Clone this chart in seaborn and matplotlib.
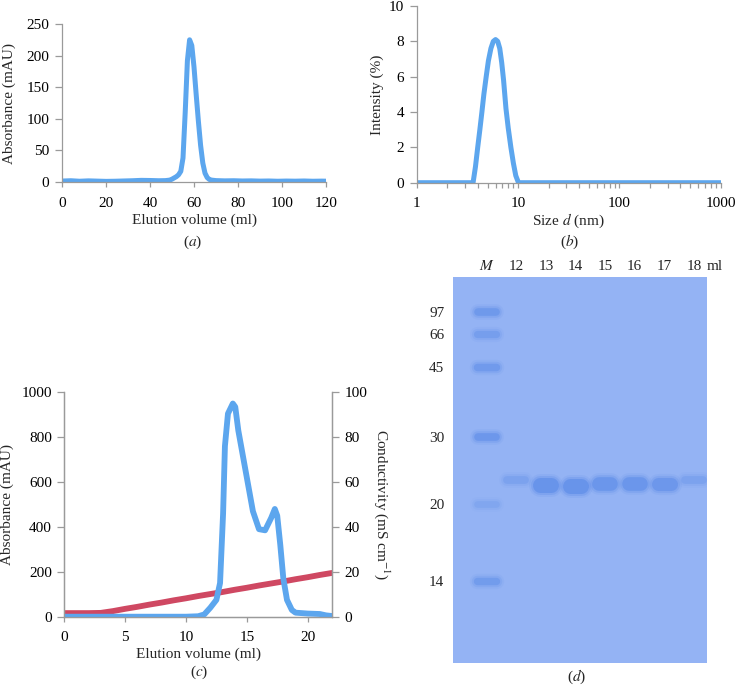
import matplotlib
matplotlib.use("Agg")
import matplotlib.pyplot as plt
import seaborn as sns
from matplotlib.ticker import FixedLocator, FixedFormatter, LogLocator, NullFormatter

# ---- (a) gel filtration ----
sec_volume = [0, 4, 8, 12, 16, 20, 24, 28, 32, 36, 40, 44,
              47, 49, 50, 51, 52, 53, 54, 55, 56, 57, 58, 59, 60, 61, 62, 63, 64, 65, 66, 67, 68,
              70, 74, 78, 82, 86, 90, 94, 98, 102, 106, 110, 114, 118, 120]
sec_abs = [1.5, 2.0, 1.2, 1.8, 1.4, 1.0, 1.2, 1.6, 2.0, 2.6, 2.4, 2.0,
           2.2, 3.0, 4.5, 6.5, 8.5, 11.5, 17, 38, 110, 192, 225, 216, 182, 138, 96, 58, 30, 14, 7, 4, 3,
           2.2, 1.8, 2.0, 1.6, 1.8, 1.4, 1.6, 1.2, 1.5, 1.3, 1.6, 1.2, 1.4, 1.3]

# ---- (b) DLS ----
dls_size = [1, 3.6, 3.8, 4.0, 4.2, 4.4, 4.6, 4.85, 5.1, 5.4, 5.7, 6.0, 6.3, 6.6, 6.9,
            7.2, 7.6, 8.0, 8.5, 9.0, 9.5, 10.1, 1000]
dls_intensity = [0, 0, 0.9, 2.0, 3.0, 4.0, 5.0, 6.0, 6.9, 7.6, 8.0, 8.1, 8.0, 7.6, 6.8,
                 5.8, 4.2, 3.1, 2.0, 1.1, 0.4, 0, 0]

# ---- (c) ion exchange ----
iex_volume = [0, 2, 4, 6, 8, 10,
              11.0, 11.5, 12.0, 12.5, 12.8, 13.05, 13.2, 13.45, 13.85, 14.05,
              14.3, 14.5, 15.0, 15.5, 16.0, 16.5, 17.0, 17.3, 17.5, 17.75,
              18.0, 18.3, 18.7, 19.0, 20.0, 21.0, 21.5, 22.0]
iex_abs = [0, 0, 0, 0, 0, 0,
           2, 10, 40, 75, 150, 460, 760, 905, 950, 935,
           830, 770, 620, 470, 390, 385, 440, 480, 450, 320,
           170, 75, 30, 18, 14, 12, 6, 3]
cond_volume = [0, 1, 2, 3, 4, 5, 6, 7, 8, 9, 10, 11, 12, 13, 14, 15, 16, 17, 18, 19, 20, 21, 22]
cond_value = [1.6, 1.6, 1.6, 1.7, 2.5, 3.5, 4.4, 5.4, 6.3, 7.3, 8.2, 9.2,
              10.1, 11.0, 12.0, 12.9, 13.9, 14.8, 15.7, 16.7, 17.6, 18.6, 19.5]

# ---- (d) SDS-PAGE ----
lanes = ["$\\mathit{M}$", "12", "13", "14", "15", "16", "17", "18"]
marker_kda = ["97", "66", "45", "30", "20", "14"]
marker_mobility = [35, 57, 90, 160, 227, 304]
marker_intensity = [0.8, 0.6, 0.75, 0.85, 0.35, 0.7]
fraction_mobility = [203, 208, 209, 207, 207, 207, 203]
fraction_intensity = [0.45, 1.0, 1.0, 0.9, 0.9, 0.85, 0.45]

BLUE = "#5CA6EE"
RED = "#CF4862"
SPINE = "#9A9A9A"
GEL_BG = "#94B3F4"
BAND = "#4F83E6"
FS = 11

sns.set_style("ticks")
plt.rcParams.update({
    "font.family": ["Liberation Serif", "DejaVu Serif"],
    "mathtext.fontset": "stix",
    "font.size": FS,
    "axes.labelsize": FS,
    "xtick.labelsize": FS,
    "ytick.labelsize": FS,
})

W, H = 735, 686
fig = plt.figure(figsize=(W / 100, H / 100), dpi=100)


def add_axes(left, top, right, bottom):
    return fig.add_axes([left / W, 1 - bottom / H, (right - left) / W, (bottom - top) / H])


def style_axis(ax, sides=("left", "bottom")):
    for side, sp in ax.spines.items():
        sp.set_visible(side in sides)
        sp.set_color(SPINE)
        sp.set_linewidth(0.9)
    ax.tick_params(axis="y", which="both", colors=SPINE, labelcolor="black",
                   length=5, width=0.9, pad=4)
    ax.tick_params(axis="x", which="both", colors=SPINE, labelcolor="black",
                   length=3.5, width=0.9, pad=7)
    ax.set_facecolor("white")
    ax.grid(False)


def place_labels(ax, xl, yl, xpos, ypos):
    ax.set_xlabel(xl, va="center")
    ax.set_ylabel(yl, va="center")
    ax.xaxis.set_label_coords(0.5, xpos)
    ax.yaxis.set_label_coords(ypos, 0.5)


# (a)
ax_a = add_axes(62, 24, 326, 182)
sns.lineplot(x=sec_volume, y=sec_abs, ax=ax_a, color=BLUE, linewidth=3.6)
ax_a.set_xlim(0, 120)
ax_a.set_ylim(0, 250)
ax_a.set_xticks([0, 20, 40, 60, 80, 100, 120])
ax_a.set_yticks([0, 50, 100, 150, 200, 250])
style_axis(ax_a)
place_labels(ax_a, "Elution volume (ml)", "Absorbance (mAU)", -0.245, -0.199)

# (b)
ax_b = add_axes(416.7, 6, 720.7, 182.7)
ax_b.set_xscale("log")
sns.lineplot(x=dls_size, y=dls_intensity, ax=ax_b, color=BLUE, linewidth=3.6)
ax_b.set_xlim(1, 1000)
ax_b.set_ylim(0, 10)
ax_b.xaxis.set_major_locator(FixedLocator([1, 10, 100, 1000]))
ax_b.xaxis.set_major_formatter(FixedFormatter(["1", "10", "100", "1000"]))
ax_b.xaxis.set_minor_locator(LogLocator(base=10, subs=range(2, 10)))
ax_b.xaxis.set_minor_formatter(NullFormatter())
ax_b.set_yticks([0, 2, 4, 6, 8, 10])
style_axis(ax_b)
place_labels(ax_b, "Size $\\mathit{d}$ (nm)", "Intensity (%)", -0.215, -0.13)

# (c)
ax_c = add_axes(64.3, 392.3, 332, 616.7)
ax_c2 = ax_c.twinx()
sns.lineplot(x=cond_volume, y=cond_value, ax=ax_c2, color=RED, linewidth=4.2)
sns.lineplot(x=iex_volume, y=iex_abs, ax=ax_c, color=BLUE, linewidth=4.2)
ax_c.set_zorder(ax_c2.get_zorder() + 1)
ax_c.patch.set_visible(False)
ax_c.set_xlim(0, 22)
ax_c.set_ylim(0, 1000)
ax_c2.set_ylim(0, 100)
ax_c.set_xticks([0, 5, 10, 15, 20])
ax_c.set_yticks([0, 200, 400, 600, 800, 1000])
ax_c2.set_yticks([0, 20, 40, 60, 80, 100])
style_axis(ax_c, sides=("left", "bottom", "right"))
style_axis(ax_c2, sides=("left", "bottom", "right"))
ax_c2.patch.set_visible(False)
place_labels(ax_c, "Elution volume (ml)", "Absorbance (mAU)", -0.166, -0.213)
ax_c2.set_ylabel("Conductivity (mS cm$^{-1}$)", rotation=-90, va="center")
ax_c2.yaxis.set_label_coords(1.186, 0.5)

# (d) gel
ax_d = add_axes(452.7, 277.3, 706.7, 663.3)
ax_d.set_facecolor(GEL_BG)
lane_pos = list(range(len(lanes)))
px_per_lane = 29.6
lane_px = 26


def draw_band(x, y, inten, thick):
    half = (lane_px - thick) / 2 / px_per_lane
    for extra, a in [(8, 0.10), (4, 0.2), (0, 0.42)]:
        ax_d.plot([x - half, x + half], [y, y], color=BAND,
                  lw=(thick + extra) / 1.389, alpha=min(1, a * inten * 1.1),
                  solid_capstyle="round")


for mob, inten in zip(marker_mobility, marker_intensity):
    draw_band(lane_pos[0], mob, inten, 6 + 2 * inten)
for x, mob, inten in zip(lane_pos[1:], fraction_mobility, fraction_intensity):
    draw_band(x, mob, inten, 2 + 13 * inten)

ax_d.set_xlim(-1.15, 7.43)
ax_d.set_ylim(386, 0)
ax_d.xaxis.tick_top()
ax_d.set_xticks(lane_pos)
ax_d.set_xticklabels(lanes)
ax_d.set_yticks(marker_mobility)
ax_d.set_yticklabels(marker_kda)
ax_d.tick_params(axis="x", length=0, pad=3)
ax_d.tick_params(axis="y", length=0, pad=6)
for sp in ax_d.spines.values():
    sp.set_visible(False)
ax_d.grid(False)
ax_d.text(1.033, 1.0 + 11 / 386, "ml", transform=ax_d.transAxes,
          ha="center", va="center", fontsize=FS)

# panel labels
for lbl, x, y in [("a", 193, 242), ("b", 570, 242), ("c", 199, 672), ("d", 576.7, 677)]:
    fig.text(x / W, 1 - y / H, "($\\mathit{%s}$)" % lbl, ha="center", va="center", fontsize=FS)

fig.savefig("out.png", dpi=100)
